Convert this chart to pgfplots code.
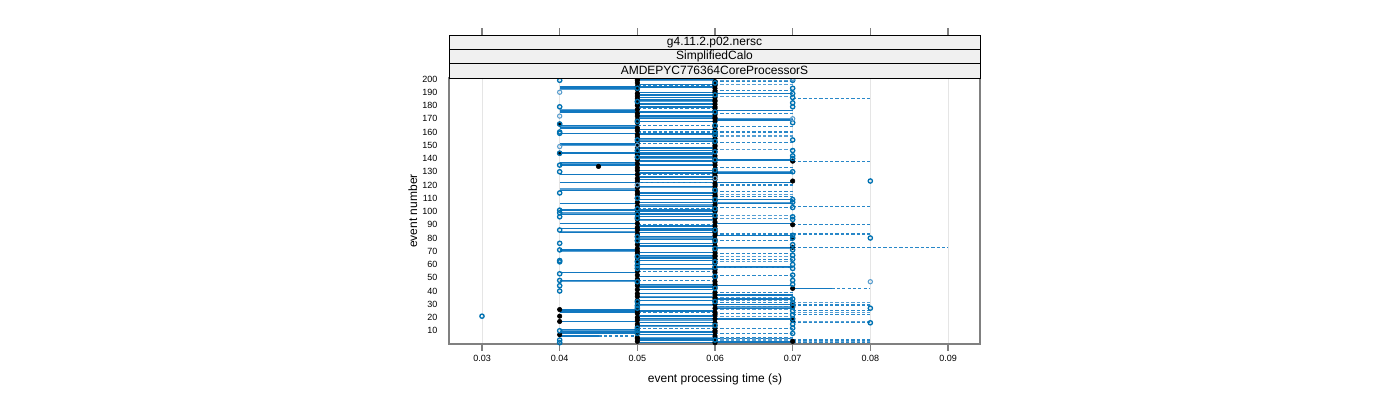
\documentclass[border=0pt]{standalone}
\usepackage{pgfplots}
\pgfplotsset{compat=1.18}
\usepackage{fontspec}
\setmainfont{Liberation Sans}
\definecolor{dk}{RGB}{0,114,178}
\definecolor{lt}{RGB}{90,158,206}
\definecolor{seg}{RGB}{18,120,192}
\definecolor{segl}{RGB}{85,158,210}
\definecolor{segd}{RGB}{40,135,200}
\definecolor{stripc}{RGB}{240,240,240}
\definecolor{framec}{RGB}{128,128,128}
\pgfplotsset{
  segsolid/.style={draw=none, mark=none, error bars/.cd, x dir=plus, x explicit, error mark=none,
    error bar style={draw=#1, line width=1.05pt, solid}},
  segdash/.style={draw=none, mark=none, error bars/.cd, x dir=plus, x explicit, error mark=none,
    error bar style={draw=#1, line width=0.85pt, dash pattern=on 2.4pt off 1.6pt}},
}
\begin{document}
\begin{tikzpicture}[x=1pt,y=1pt]
\path[use as bounding box] (0,0) rectangle (1050,300);
\begin{axis}[at={(336.75pt,42pt)}, anchor=south west, scale only axis,
  width=398.25pt, height=199.5pt,
  xmin=0.02575, xmax=0.09412, ymin=0, ymax=200.75,
  scaled x ticks=false,
  xtick={0.03,0.04,0.05,0.06,0.07,0.08,0.09},
  xticklabels={0.03,0.04,0.05,0.06,0.07,0.08,0.09},
  ytick={10,20,...,200},
  tick label style={font=\fontsize{6.75}{8}\selectfont},
  /pgf/number format/assume math mode=true,
  axis line style={draw=framec, line width=0.9pt},
  tick align=outside, major tick length=5.25pt,
  xtick style={draw=framec, line width=0.8pt},
  ytick style={draw=none},
  xtick pos=bottom, ytick pos=left,
  xmajorgrids, major grid style={draw=black!10, line width=0.5pt},
]
% solid segments (dark)
\addplot[segsolid=seg] table[x=x, y=y, x error=u, row sep=\\]{
x y u\\
0.04 193 0.01\\ 0.04 176 0.01\\ 0.04 165 0.01\\ 0.04 163 0.01\\ 0.04 151 0.01\\ 0.04 137 0.01\\
0.04 128 0.01\\ 0.04 116 0.01\\ 0.04 106 0.01\\ 0.04 91 0.01\\ 0.04 71 0.01\\ 0.04 54 0.01\\
0.04 48 0.01\\ 0.04 26 0.01\\ 0.04 24 0.01\\ 0.04 17 0.01\\ 0.04 11 0.01\\ 0.04 8 0.01\\
0.04 194 0.02\\ 0.04 175 0.02\\ 0.04 159 0.02\\ 0.04 144 0.02\\ 0.04 135 0.02\\ 0.04 122 0.02\\
0.04 101 0.02\\ 0.04 98 0.02\\ 0.04 87 0.02\\ 0.04 84 0.02\\ 0.04 25 0.02\\ 0.04 9 0.02\\
0.04 6 0.005\\
0.05 200 0.01\\ 0.05 196 0.01\\ 0.05 190 0.01\\ 0.05 188 0.01\\ 0.05 186 0.01\\ 0.05 184 0.01\\
0.05 181 0.01\\ 0.05 179 0.01\\ 0.05 172 0.01\\ 0.05 170 0.01\\ 0.05 168 0.01\\ 0.05 162 0.01\\
0.05 158 0.01\\ 0.05 155 0.01\\ 0.05 153 0.01\\ 0.05 148 0.01\\ 0.05 146 0.01\\ 0.05 143 0.01\\
0.05 141 0.01\\ 0.05 138 0.01\\ 0.05 131 0.01\\ 0.05 129 0.01\\ 0.05 126 0.01\\ 0.05 124 0.01\\
0.05 119 0.01\\ 0.05 114 0.01\\ 0.05 112 0.01\\ 0.05 109 0.01\\ 0.05 107 0.01\\ 0.05 104 0.01\\
0.05 100 0.01\\ 0.05 96 0.01\\ 0.05 94 0.01\\ 0.05 89 0.01\\ 0.05 86 0.01\\ 0.05 81 0.01\\
0.05 79 0.01\\ 0.05 76 0.01\\ 0.05 74 0.01\\ 0.05 69 0.01\\ 0.05 67 0.01\\ 0.05 65 0.01\\
0.05 63 0.01\\ 0.05 60 0.01\\ 0.05 57 0.01\\ 0.05 51 0.01\\ 0.05 45 0.01\\ 0.05 43 0.01\\
0.05 41 0.01\\ 0.05 38 0.01\\ 0.05 35 0.01\\ 0.05 33 0.01\\ 0.05 30 0.01\\ 0.05 21 0.01\\
0.05 19 0.01\\ 0.05 16 0.01\\ 0.05 14 0.01\\ 0.05 7 0.01\\ 0.05 4 0.01\\ 0.05 3 0.01\\ 0.05 1 0.01\\
0.06 189 0.01\\ 0.06 176 0.01\\ 0.06 169 0.01\\ 0.06 139 0.01\\ 0.06 129 0.01\\ 0.06 122 0.01\\
0.06 109 0.01\\ 0.06 106 0.01\\ 0.06 91 0.01\\ 0.06 82 0.01\\ 0.06 73 0.01\\ 0.06 58 0.01\\
0.06 44 0.01\\ 0.06 37 0.01\\ 0.06 34 0.01\\ 0.06 30 0.01\\ 0.06 27 0.01\\ 0.06 19 0.01\\
0.06 4 0.01\\ 0.06 2 0.01\\ 0.06 1 0.01\\
0.07 42 0.005\\
};
% solid segments (light)
\addplot[segsolid=segl] table[x=x, y=y, x error=u, row sep=\\]{
x y u\\
0.04 192 0.01\\ 0.04 177 0.01\\ 0.04 164 0.01\\ 0.04 150 0.01\\ 0.04 136 0.01\\ 0.04 117 0.01\\
0.04 99 0.01\\ 0.04 85 0.01\\ 0.04 70 0.01\\ 0.04 47 0.01\\ 0.04 10 0.01\\
0.05 199 0.01\\ 0.05 183 0.01\\ 0.05 171 0.01\\ 0.05 154 0.01\\ 0.05 140 0.01\\ 0.05 118 0.01\\
0.05 105 0.01\\ 0.05 93 0.01\\ 0.05 80 0.01\\ 0.05 66 0.01\\ 0.05 56 0.01\\ 0.05 44 0.01\\
0.05 36 0.01\\ 0.05 29 0.01\\ 0.05 18 0.01\\ 0.05 13 0.01\\ 0.05 5 0.01\\
0.06 170 0.01\\ 0.06 130 0.01\\ 0.06 107 0.01\\ 0.06 72 0.01\\ 0.06 28 0.01\\
};
% dashed segments (dark)
\addplot[segdash=segd] table[x=x, y=y, x error=u, row sep=\\]{
x y u\\
0.045 6 0.005\\
0.05 195 0.01\\ 0.05 178 0.01\\ 0.05 165 0.01\\ 0.05 160 0.01\\ 0.05 151 0.01\\ 0.05 128 0.01\\
0.05 122 0.01\\ 0.05 102 0.01\\ 0.05 90 0.01\\ 0.05 55 0.01\\ 0.05 48 0.01\\ 0.05 24 0.01\\ 0.05 12 0.01\\
0.06 198 0.01\\ 0.06 191 0.01\\ 0.06 174 0.01\\ 0.06 164 0.01\\ 0.06 160 0.01\\ 0.06 152 0.01\\
0.06 133 0.01\\ 0.06 120 0.01\\ 0.06 115 0.01\\ 0.06 111 0.01\\ 0.06 103 0.01\\ 0.06 83 0.01\\
0.06 78 0.01\\ 0.06 68 0.01\\ 0.06 64 0.01\\ 0.06 58 0.01\\ 0.06 52 0.01\\ 0.06 39 0.01\\
0.06 31 0.01\\ 0.06 28 0.01\\ 0.06 23 0.01\\ 0.06 12 0.01\\ 0.06 8 0.01\\ 0.06 5 0.01\\
0.07 185 0.01\\ 0.07 138 0.01\\ 0.07 104 0.01\\ 0.07 90 0.01\\ 0.07 83 0.01\\ 0.07 30 0.01\\
0.07 29 0.01\\ 0.07 25 0.01\\ 0.07 22 0.01\\ 0.07 16 0.01\\ 0.07 3 0.01\\ 0.07 2 0.01\\ 0.07 1 0.01\\
0.075 42 0.005\\
0.07 73 0.02\\
};
% dashed segments (light)
\addplot[segdash=segl] table[x=x, y=y, x error=u, row sep=\\]{
x y u\\
0.06 199 0.01\\ 0.06 196 0.01\\ 0.06 187 0.01\\ 0.06 157 0.01\\ 0.06 147 0.01\\ 0.06 113 0.01\\
0.06 97 0.01\\ 0.06 95 0.01\\ 0.06 66 0.01\\ 0.06 62 0.01\\ 0.06 35 0.01\\ 0.06 33 0.01\\
0.06 26 0.01\\ 0.06 21 0.01\\ 0.06 4 0.01\\ 0.06 3 0.01\\
0.07 31 0.01\\ 0.07 24 0.01\\ 0.07 17 0.01\\ 0.07 2 0.01\\
};
% black dots
\addplot[only marks, mark=*, mark size=1.7pt, black] coordinates {
(0.05,2)(0.05,4)(0.05,5)(0.05,8)(0.05,11)(0.05,13)(0.05,15)(0.05,18)(0.05,20)(0.05,23)
(0.05,25)(0.05,28)(0.05,31)(0.05,33)(0.05,36)(0.05,38)(0.05,41)(0.05,44)(0.05,46)(0.05,49)
(0.05,52)(0.05,55)(0.05,57)(0.05,60)(0.05,63)(0.05,65)(0.05,68)(0.05,70)(0.05,72)(0.05,75)
(0.05,78)(0.05,81)(0.05,83)(0.05,86)(0.05,88)(0.05,91)(0.05,94)(0.05,96)(0.05,99)(0.05,102)
(0.05,104)(0.05,107)(0.05,110)(0.05,113)(0.05,115)(0.05,118)(0.05,120)(0.05,123)(0.05,125)(0.05,128)
(0.05,131)(0.05,133)(0.05,136)(0.05,139)(0.05,141)(0.05,143)(0.05,146)(0.05,148)(0.05,151)(0.05,153)
(0.05,156)(0.05,158)(0.05,161)(0.05,163)(0.05,167)(0.05,169)(0.05,172)(0.05,174)(0.05,177)(0.05,180)
(0.05,182)(0.05,185)(0.05,187)(0.05,189)(0.05,192)(0.05,194)(0.05,197)(0.05,199)(0.05,200)
(0.06,1)(0.06,3)(0.06,6)(0.06,9)(0.06,10)(0.06,12)(0.06,14)(0.06,16)(0.06,19)(0.06,22)
(0.06,24)(0.06,27)(0.06,30)(0.06,32)(0.06,34)(0.06,35)(0.06,37)(0.06,39)(0.06,43)(0.06,45)
(0.06,47)(0.06,50)(0.06,51)(0.06,54)(0.06,56)(0.06,58)(0.06,61)(0.06,64)(0.06,66)(0.06,67)
(0.06,69)(0.06,71)(0.06,74)(0.06,77)(0.06,79)(0.06,82)(0.06,84)(0.06,85)(0.06,87)(0.06,89)
(0.06,92)(0.06,95)(0.06,97)(0.06,100)(0.06,101)(0.06,103)(0.06,105)(0.06,108)(0.06,109)(0.06,111)
(0.06,112)(0.06,114)(0.06,116)(0.06,117)(0.06,119)(0.06,121)(0.06,124)(0.06,126)(0.06,127)(0.06,129)
(0.06,130)(0.06,132)(0.06,135)(0.06,137)(0.06,140)(0.06,142)(0.06,145)(0.06,147)(0.06,149)(0.06,150)
(0.06,152)(0.06,155)(0.06,157)(0.06,159)(0.06,160)(0.06,162)(0.06,164)(0.06,165)(0.06,168)(0.06,170)
(0.06,171)(0.06,173)(0.06,175)(0.06,176)(0.06,178)(0.06,179)(0.06,181)(0.06,183)(0.06,184)(0.06,186)
(0.06,188)(0.06,190)(0.06,191)(0.06,193)(0.06,195)(0.06,196)(0.06,198)
(0.04,7)(0.04,17)(0.04,21)(0.04,26)(0.04,144)(0.04,166)(0.045,134)
(0.07,2)(0.07,18)(0.07,29)(0.07,42)(0.07,73)(0.07,80)(0.07,90)(0.07,123)(0.07,138)
};
% open circles (dark)
\addplot[only marks, mark=o, mark size=1.6pt, dk, line width=1pt] coordinates {
(0.03,21)
(0.04,1)(0.04,3)(0.04,10)(0.04,40)(0.04,44)(0.04,48)(0.04,53)(0.04,62)(0.04,63)(0.04,71)
(0.04,76)(0.04,86)(0.04,96)(0.04,99)(0.04,101)(0.04,114)(0.04,130)(0.04,135)(0.04,144)(0.04,159)
(0.04,160)(0.04,166)(0.04,179)(0.04,199)
(0.05,8)(0.05,10)(0.05,12)(0.05,27)(0.05,29)(0.05,32)(0.05,47)(0.05,57)(0.05,59)(0.05,62)
(0.05,66)(0.05,78)(0.05,81)(0.05,95)(0.05,98)(0.05,102)(0.05,110)(0.05,141)(0.05,146)(0.05,154)
(0.05,168)(0.05,183)(0.05,193)
(0.06,3)(0.06,14)(0.06,32)(0.06,42)(0.06,51)(0.06,58)(0.06,62)(0.06,72)(0.06,78)(0.06,86)
(0.06,97)(0.06,102)(0.06,109)(0.06,116)(0.06,131)(0.06,139)(0.06,145)(0.06,153)(0.06,158)(0.06,160)
(0.06,165)(0.06,175)(0.06,188)(0.06,197)
(0.07,8)(0.07,12)(0.07,15)(0.07,19)(0.07,22)(0.07,25)(0.07,28)(0.07,31)(0.07,34)(0.07,45)
(0.07,48)(0.07,52)(0.07,57)(0.07,60)(0.07,64)(0.07,67)(0.07,71)(0.07,75)(0.07,80)(0.07,82)
(0.07,94)(0.07,96)(0.07,103)(0.07,107)(0.07,109)(0.07,130)(0.07,140)(0.07,142)(0.07,146)(0.07,154)
(0.07,167)(0.07,179)(0.07,182)(0.07,186)(0.07,189)(0.07,193)(0.07,199)
(0.08,16)(0.08,27)(0.08,80)(0.08,123)
};
% open circles (light)
\addplot[only marks, mark=o, mark size=1.6pt, lt, line width=0.8pt] coordinates {
(0.04,149)(0.04,172)(0.04,190)(0.08,47)(0.05,120)(0.05,150)(0.06,125)(0.07,200)(0.07,170)
};
\end{axis}
% strips
\draw[black, line width=0.6pt, fill=stripc] (336.75,241.5) rectangle (735,252.25);
\draw[black, line width=0.6pt, fill=stripc] (336.75,252.25) rectangle (735,263);
\draw[black, line width=0.6pt, fill=stripc] (336.75,263) rectangle (735,273.75);
\node[font=\fontsize{9}{10}\selectfont, inner sep=0pt] at (535.875,246.875) {AMDEPYC776364CoreProcessorS};
\node[font=\fontsize{9}{10}\selectfont, inner sep=0pt] at (535.875,257.625) {SimplifiedCalo};
\node[font=\fontsize{9}{10}\selectfont, inner sep=0pt] at (535.875,268.375) {g4.11.2.p02.nersc};
% top ticks
\foreach \tx in {361.51,419.76,478.01,536.26,594.51,652.76,711.01}
  \draw[framec, line width=0.8pt] (\tx,273.75) -- (\tx,279);
% axis labels
\node[font=\fontsize{9}{10}\selectfont] at (536.25,15.5) {event processing time (s)};
\node[font=\fontsize{9}{10}\selectfont, rotate=90] at (309.6,141.75) {event number};
\end{tikzpicture}
\end{document}
